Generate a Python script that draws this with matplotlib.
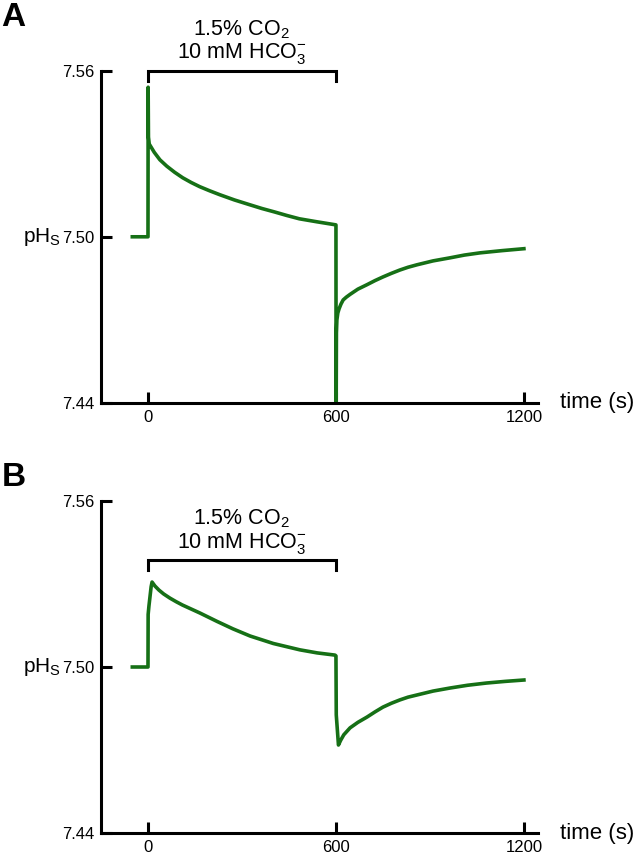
import matplotlib.pyplot as plt
import numpy as np

plt.rcParams["font.family"] = "Liberation Sans"
plt.rcParams["mathtext.fontset"] = "custom"
plt.rcParams["mathtext.rm"] = "Liberation Sans"
plt.rcParams["mathtext.it"] = "Liberation Sans:italic"
plt.rcParams["mathtext.bf"] = "Liberation Sans:bold"
plt.rcParams["xtick.direction"] = "in"
plt.rcParams["ytick.direction"] = "in"

# pulse of 1.5% CO2 / 10 mM HCO3-
pulse_on, pulse_off = 0, 600

x_ticks = [0, 600, 1200]
y_ticks = [7.44, 7.50, 7.56]
y_tick_labels = ["7.44", "7.50", "7.56"]

# panel A trace (time s, pHs)
a_time = [-50, 0, 0.5, 1.5, 4, 20, 38, 60, 85, 111, 138, 165, 197, 229, 276,
          324, 364, 403, 443, 483, 540, 600,
          600.5, 601.5, 603, 606, 610, 616, 623, 633, 645, 670, 699, 725, 750,
          777, 804, 830, 859, 910, 964, 1010, 1060, 1130, 1200]
a_ph = [7.500, 7.500, 7.554, 7.536, 7.5335, 7.5305, 7.5278, 7.5255, 7.5233,
        7.5213, 7.5196, 7.5181, 7.5166, 7.5152, 7.5133, 7.5116, 7.5102, 7.5090,
        7.5077, 7.5065, 7.5054, 7.5043,
        7.430, 7.4653, 7.4700, 7.4725, 7.4740, 7.4757, 7.4772, 7.4782, 7.4792,
        7.4811, 7.4827, 7.4842, 7.4855, 7.4868, 7.4880, 7.4890, 7.4899, 7.4913,
        7.4924, 7.4934, 7.4942, 7.4950, 7.4957]

# panel B trace (time s, pHs)
b_time = [-50, 0, 0.5, 3, 10, 13, 22, 35, 50, 70, 90, 110, 166, 220, 271, 326,
          400, 485, 540, 597, 600, 601, 608,
          615, 625, 645, 670, 699, 725, 750, 777, 804, 830, 859, 910, 964, 1020,
          1080, 1140, 1200]
b_ph = [7.500, 7.500, 7.519, 7.522, 7.529, 7.5307, 7.5293, 7.5278, 7.5264,
        7.5249, 7.5236, 7.5224, 7.5195, 7.5165, 7.5138, 7.5112, 7.5085, 7.5062,
        7.5051, 7.5043, 7.5040, 7.4827, 7.4718,
        7.4735, 7.4755, 7.4780, 7.4800, 7.4819, 7.4838, 7.4855, 7.4869, 7.4881,
        7.4891, 7.4899, 7.4913, 7.4924, 7.4934, 7.4942, 7.4948, 7.4953]

green = "#167016"

fig = plt.figure(figsize=(6.34, 8.57), dpi=100)
axA = fig.add_axes([0.1593, 0.5298, 0.6893, 0.3878])
axB = fig.add_axes([0.1593, 0.0280, 0.6893, 0.3874])


def style_panel(ax, t, ph, bracket_y):
    ax.plot(t, ph, color=green, lw=2.6, solid_joinstyle="round")
    ax.set_xlim(-150, 1245)
    ax.set_ylim(7.44, 7.56)
    for s in ["top", "right"]:
        ax.spines[s].set_visible(False)
    for s in ["left", "bottom"]:
        ax.spines[s].set_linewidth(2.2)
    ax.set_xticks(x_ticks)
    ax.set_yticks(y_ticks)
    ax.set_yticklabels(y_tick_labels)
    ax.tick_params(length=8, width=2.2, labelsize=12)
    ax.tick_params(axis="x", pad=5)
    ax.tick_params(axis="y", pad=5)

    # stimulus bracket
    tick = 0.0036
    ax.plot([pulse_on, pulse_on, pulse_off, pulse_off],
            [bracket_y - tick, bracket_y, bracket_y, bracket_y - tick],
            color="k", lw=2.2, clip_on=False, solid_joinstyle="miter")
    mid = (pulse_on + pulse_off) / 2
    ax.annotate("1.5% CO$_2$\n10 mM HCO$_3^{-}$", xy=(mid, bracket_y),
                xytext=(0, 3), textcoords="offset points",
                ha="center", va="bottom", fontsize=15.5, linespacing=1.05,
                annotation_clip=False)

    ax.annotate("time (s)", xy=(1, 7.44), xycoords=("axes fraction", "data"),
                xytext=(16, 0), textcoords="offset points",
                ha="left", va="center", fontsize=16, annotation_clip=False)
    ax.annotate("pH$_\\mathrm{S}$", xy=(0, 7.50), xycoords=("axes fraction", "data"),
                xytext=(-29, 0), textcoords="offset points",
                ha="right", va="center", fontsize=15, annotation_clip=False)


style_panel(axA, a_time, a_ph, 7.56)
style_panel(axB, b_time, b_ph, 7.5387)

fig.text(0.002, 1 - 17 / 857, "A", fontsize=24, fontweight="bold", va="center")
fig.text(0.002, 1 - 477 / 857, "B", fontsize=24, fontweight="bold", va="center")

fig.savefig("out.png", dpi=100)
